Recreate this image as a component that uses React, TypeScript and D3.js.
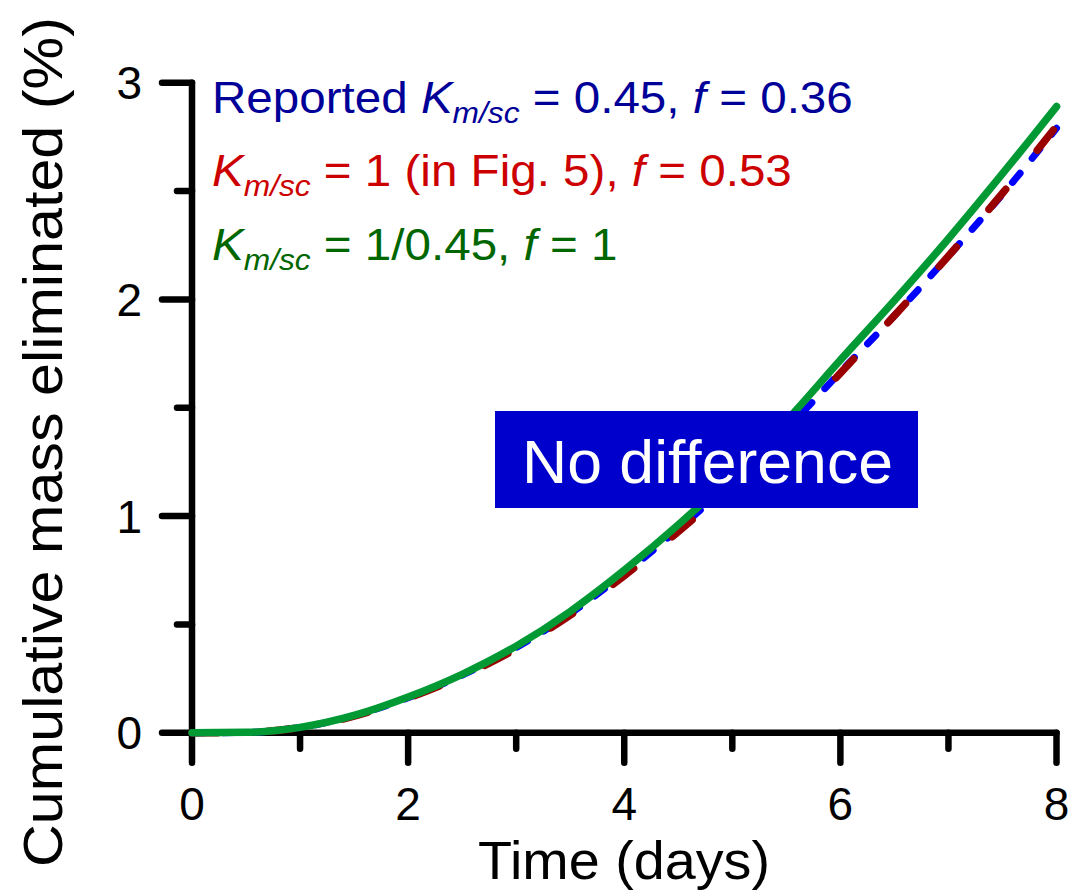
import React from "react";
import * as d3 from "d3";

const times = [0, 0.5, 1, 1.5, 2, 2.5, 3, 3.5, 4, 4.5, 5, 5.5, 6, 6.5, 7, 7.5, 8];
const greenValues = [0, 0.002, 0.025, 0.08, 0.165, 0.27, 0.4, 0.56, 0.75, 0.96, 1.19, 1.44, 1.72, 1.995, 2.28, 2.58, 2.89];
const redValues = [0, 0.002, 0.024, 0.077, 0.16, 0.262, 0.388, 0.543, 0.725, 0.928, 1.15, 1.39, 1.66, 1.925, 2.2, 2.49, 2.8];
const blueValues = [0, 0.002, 0.025, 0.079, 0.162, 0.266, 0.393, 0.55, 0.735, 0.94, 1.16, 1.4, 1.665, 1.925, 2.2, 2.485, 2.79];
const xMajorTicks = [0, 2, 4, 6, 8];
const xMinorTicks = [1, 3, 5, 7];
const yMajorTicks = [0, 1, 2, 3];
const yMinorTicks = [0.5, 1.5, 2.5];

const W = 1069;
const H = 893;
const FONT = "'Liberation Sans', Arial, Helvetica, sans-serif";

export default function App() {
  const x = d3.scaleLinear().domain([0, 8]).range([192, 1056.5]);
  const y = d3.scaleLinear().domain([0, 3]).range([732.8, 82.7]);
  const line = (vals: number[]) =>
    d3
      .line<number>()
      .x((_, i) => x(times[i]))
      .y((v) => y(v))
      .curve(d3.curveMonotoneX)(vals) as string;

  const axisW = 6.5;
  const series = [
    { vals: blueValues, color: "#0000ff", dash: "12 19", width: 7 },
    { vals: redValues, color: "#990000", dash: "26 50", width: 7.5 },
    { vals: greenValues, color: "#009933", dash: "none", width: 7.5 },
  ];

  const legend = [
    { color: "#000099", pre: "Reported ", mid: " = 0.45, ", post: " = 0.36", base: 113 },
    { color: "#cc0000", pre: "", mid: " = 1 (in Fig. 5), ", post: " = 0.53", base: 186.5 },
    { color: "#006600", pre: "", mid: " = 1/0.45, ", post: " = 1", base: 260 },
  ];

  return (
    <svg
      width={W}
      height={H}
      style={{ position: "absolute", left: 0, top: 0, background: "#fff" }}
      fontFamily={FONT}
    >
      {/* axes */}
      <g stroke="#000" strokeWidth={axisW} strokeLinecap="round" fill="none">
        <line x1={x(0)} y1={y(0)} x2={x(8)} y2={y(0)} />
        <line x1={x(0)} y1={y(0)} x2={x(0)} y2={y(3)} />
        {xMajorTicks.map((t) => (
          <line key={"xM" + t} x1={x(t)} y1={y(0)} x2={x(t)} y2={y(0) + 30} />
        ))}
        {xMinorTicks.map((t) => (
          <line key={"xm" + t} x1={x(t)} y1={y(0)} x2={x(t)} y2={y(0) + 16} />
        ))}
        {yMajorTicks.map((t) => (
          <line key={"yM" + t} x1={x(0)} y1={y(t)} x2={x(0) - 30} y2={y(t)} />
        ))}
        {yMinorTicks.map((t) => (
          <line key={"ym" + t} x1={x(0)} y1={y(t)} x2={x(0) - 15} y2={y(t)} />
        ))}
      </g>

      {/* series */}
      {series.map((s, i) => (
        <path
          key={i}
          d={line(s.vals)}
          fill="none"
          stroke={s.color}
          strokeWidth={s.width}
          strokeDasharray={s.dash}
          strokeLinecap="round"
          strokeLinejoin="round"
        />
      ))}

      {/* tick labels */}
      <g fontSize={46} fill="#000">
        {xMajorTicks.map((t) => (
          <text key={"xl" + t} x={x(t)} y={820} textAnchor="middle">
            {t}
          </text>
        ))}
        {yMajorTicks.map((t) => (
          <text key={"yl" + t} x={142} y={y(t) + 16.5} textAnchor="end">
            {t}
          </text>
        ))}
      </g>

      {/* axis titles */}
      <text
        x={624}
        y={879}
        fontSize={54}
        textAnchor="middle"
        fill="#000"
        textLength={292}
        lengthAdjust="spacingAndGlyphs"
      >
        Time (days)
      </text>
      <text
        transform="translate(62, 442) rotate(-90)"
        fontSize={56}
        textAnchor="middle"
        fill="#000"
        textLength={850}
        lengthAdjust="spacingAndGlyphs"
      >
        Cumulative mass eliminated (%)
      </text>

      {/* legend */}
      <g transform="translate(212,0) scale(1.057,1) translate(-212,0)">
        {legend.map((l, i) => (
          <text key={"lg" + i} x={212} y={l.base} fontSize={45} fill={l.color}>
            {l.pre ? <tspan>{l.pre}</tspan> : null}
            <tspan fontStyle="italic">K</tspan>
            <tspan fontStyle="italic" fontSize={30} dy={10}>
              m/sc
            </tspan>
            <tspan dy={-10}>{l.mid}</tspan>
            <tspan fontStyle="italic">f</tspan>
            <tspan>{l.post}</tspan>
          </text>
        ))}
      </g>

      {/* annotation box */}
      <rect x={495} y={411} width={423} height={97} fill="#0000cc" />
      <text
        x={522}
        y={482.5}
        fontSize={62}
        fill="#fff"
        textLength={371}
        lengthAdjust="spacingAndGlyphs"
      >
        No difference
      </text>
    </svg>
  );
}
